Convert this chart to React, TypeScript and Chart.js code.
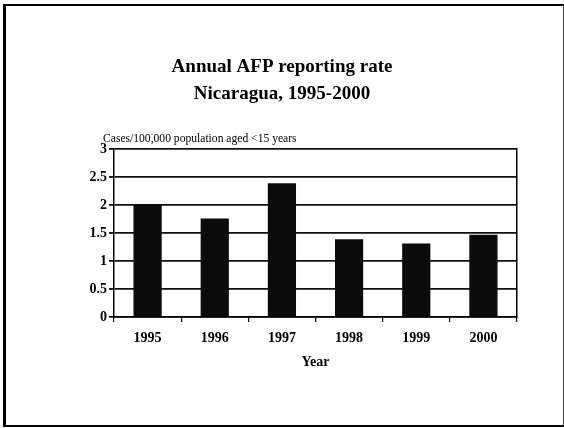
import React, { useEffect, useRef } from "react";
import { Chart, registerables } from "chart.js";

Chart.register(...registerables);

const titleLines = ["Annual AFP reporting rate", "Nicaragua, 1995-2000"];
const yCaption = "Cases/100,000 population aged <15 years";
const xTitle = "Year";
const years = ["1995", "1996", "1997", "1998", "1999", "2000"];
const rates = [2.01, 1.76, 2.39, 1.39, 1.31, 1.47];
const yTicks = [0, 0.5, 1, 1.5, 2, 2.5, 3];

const SERIF = "'Liberation Serif', 'Times New Roman', Times, serif";

const captionPlugin = {
  id: "yCaption",
  afterDraw(chart: any) {
    const { ctx, chartArea } = chart;
    ctx.save();
    ctx.font = `11.6px ${SERIF}`;
    ctx.fillStyle = "#000";
    ctx.textAlign = "left";
    ctx.textBaseline = "middle";
    ctx.fillText(yCaption, chartArea.left - 11, chartArea.top - 10);
    ctx.restore();
  },
};

export default function App() {
  const ref = useRef<HTMLCanvasElement | null>(null);

  useEffect(() => {
    if (!ref.current) return;
    const chart = new Chart(ref.current, {
      type: "bar",
      data: {
        labels: years,
        datasets: [
          {
            data: rates,
            backgroundColor: "#0b0b0b",
            borderWidth: 0,
            categoryPercentage: 1,
            barPercentage: 0.42,
          },
        ],
      },
      options: {
        animation: false,
        responsive: false,
        maintainAspectRatio: false,
        layout: { padding: 0 },
        plugins: {
          legend: { display: false },
          tooltip: { enabled: false },
          title: {
            display: true,
            text: titleLines,
            color: "#000",
            font: { family: SERIF, size: 19, weight: "bold", lineHeight: 1.42 },
            padding: { top: 54, bottom: 41 },
          },
        },
        scales: {
          x: {
            offset: true,
            grid: {
              display: true,
              offset: true,
              drawOnChartArea: false,
              drawTicks: true,
              tickLength: 5,
              color: "#000",
              lineWidth: 1.2,
            },
            border: { display: true, color: "#000", width: 1.5 },
            ticks: {
              color: "#000",
              padding: 8,
              maxRotation: 0,
              font: { family: SERIF, size: 14, weight: "bold", lineHeight: 1.2 },
            },
            title: {
              display: true,
              text: xTitle,
              color: "#000",
              font: { family: SERIF, size: 14, weight: "bold", lineHeight: 1.2 },
              padding: { top: 4, bottom: 57 },
            },
            afterFit(s: any) {
              s.height = 111;
            },
          },
          y: {
            min: 0,
            max: 3,
            afterBuildTicks(s: any) {
              s.ticks = yTicks.map((v) => ({ value: v }));
            },
            grid: {
              color: "#111",
              lineWidth: 1.8,
              drawTicks: true,
              tickLength: 5,
            },
            border: { display: true, color: "#000", width: 1.5 },
            ticks: {
              color: "#000",
              padding: 2,
              font: { family: SERIF, size: 14, weight: "bold" },
              callback: (v: any) => String(v),
            },
            afterFit(s: any) {
              s.width = 114;
            },
          },
          y2: {
            position: "right",
            display: true,
            grid: { display: false, drawTicks: false },
            ticks: { display: false },
            border: { display: true, color: "#000", width: 1.5 },
            afterFit(s: any) {
              s.width = 47;
            },
          },
        },
      },
      plugins: [captionPlugin],
    } as any);
    return () => chart.destroy();
  }, []);

  return (
    <div
      style={{
        position: "fixed",
        left: 0,
        top: 0,
        width: 564,
        height: 428,
        background: "#fff",
      }}
    >
      <div
        style={{
          position: "absolute",
          left: 3,
          top: 4,
          width: 561,
          height: 423,
          boxSizing: "border-box",
          borderLeft: "3px solid #000",
          borderTop: "2px solid #000",
          borderBottom: "2px solid #000",
          borderRight: "1px solid #444",
        }}
      />
      <canvas
        ref={ref}
        width={564}
        height={428}
        style={{ position: "absolute", left: 0, top: 0, width: 564, height: 428 }}
      />
    </div>
  );
}
